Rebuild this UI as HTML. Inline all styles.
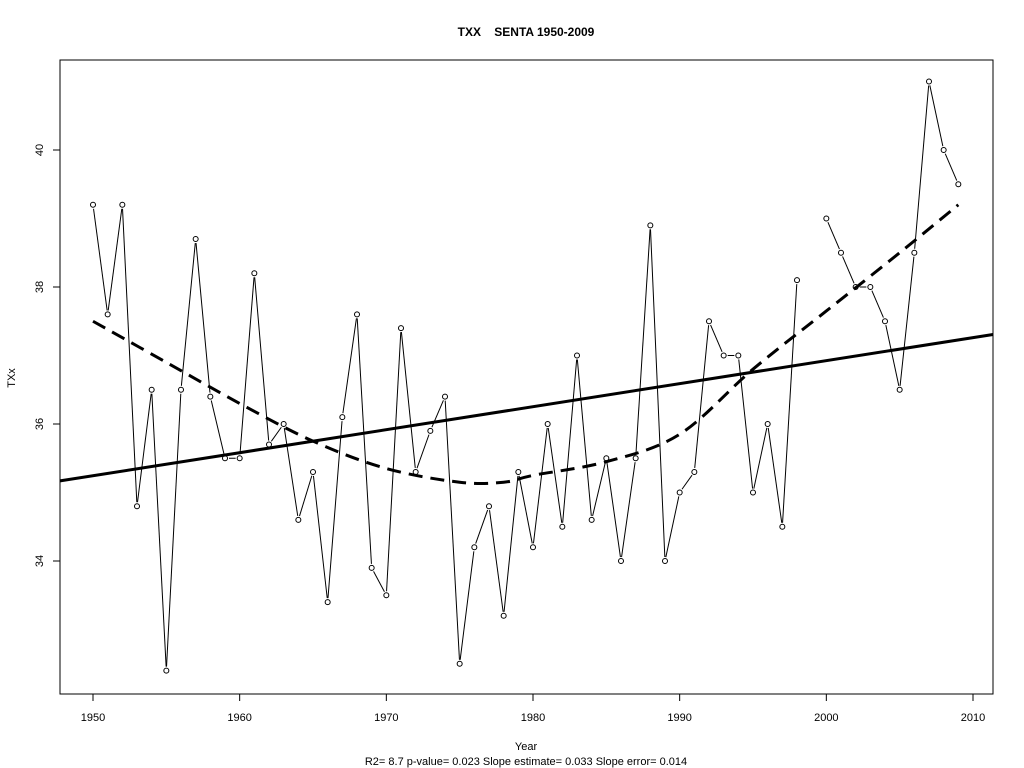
<!DOCTYPE html>
<html><head><meta charset="utf-8"><style>
html,body{margin:0;padding:0;background:#fff;}
svg{display:block;font-family:"Liberation Sans",Arial,sans-serif;}
</style></head><body>
<svg id="chart" width="1024" height="768" viewBox="0 0 1024 768">
<text x="526" y="36" text-anchor="middle" font-size="12" font-weight="bold" xml:space="preserve">TXX    SENTA 1950-2009</text>
<rect x="60" y="60" width="933" height="634" fill="none" stroke="#000" stroke-width="1"/>
<g id="xaxis"></g>
<g id="yaxis"></g>
<text x="526" y="750" text-anchor="middle" font-size="11">Year</text>
<text x="526" y="765" text-anchor="middle" font-size="11">R2= 8.7  p-value= 0.023  Slope estimate= 0.033  Slope error= 0.014</text>
<text x="15" y="378" text-anchor="middle" font-size="11" transform="rotate(-90 15 378)">TXx</text>
<g id="marks"></g>
</svg>
<script>
const years=[1950,1951,1952,1953,1954,1955,1956,1957,1958,1959,1960,1961,1962,1963,1964,1965,1966,1967,1968,1969,1970,1971,1972,1973,1974,1975,1976,1977,1978,1979,1980,1981,1982,1983,1984,1985,1986,1987,1988,1989,1990,1991,1992,1993,1994,1995,1996,1997,1998,1999,2000,2001,2002,2003,2004,2005,2006,2007,2008,2009];
const txx=[39.2,37.6,39.2,34.8,36.5,32.4,36.5,38.7,36.4,35.5,35.5,38.2,35.7,36.0,34.6,35.3,33.4,36.1,37.6,33.9,33.5,37.4,35.3,35.9,36.4,32.5,34.2,34.8,33.2,35.3,34.2,36.0,34.5,37.0,34.6,35.5,34.0,35.5,38.9,34.0,35.0,35.3,37.5,37.0,37.0,35.0,36.0,34.5,38.1,null,39.0,38.5,38.0,38.0,37.5,36.5,38.5,41.0,40.0,39.5];
const smoothYears=[1950,1955,1960,1965,1970,1975,1978,1980,1985,1990,1995,2000,2005,2009];
const smoothVals=[37.5,36.9,36.3,35.75,35.35,35.15,35.15,35.25,35.45,35.85,36.8,37.65,38.5,39.2];
const trendSlope=0.0336, trendIntercept1950=35.245;
const xTicks=[1950,1960,1970,1980,1990,2000,2010];
const yTicks=[34,36,38,40];

const NS="http://www.w3.org/2000/svg";
const X=v=>93+(v-1950)*(880/60);
const Y=v=>150+(40-v)*(411/6);
function mk(tag,attrs,parent){const e=document.createElementNS(NS,tag);for(const k in attrs)e.setAttribute(k,attrs[k]);parent.appendChild(e);return e;}
const xa=document.getElementById('xaxis'),ya=document.getElementById('yaxis'),marks=document.getElementById('marks');
mk('line',{x1:X(1950),x2:X(2010),y1:694,y2:694,stroke:'#000'},xa);
xTicks.forEach(t=>{
  const l=mk('line',{x1:X(t),x2:X(t),y1:694,y2:701,stroke:'#000'},xa);
  
  
  const tx=mk('text',{x:X(t),y:721,'text-anchor':'middle','font-size':11},xa);tx.textContent=t;
  
  
});
mk('line',{x1:60,x2:60,y1:Y(34),y2:Y(40),stroke:'#000'},ya);
yTicks.forEach(t=>{
  const l=mk('line',{x1:53,x2:60,y1:Y(t),y2:Y(t),stroke:'#000'},ya);
  
  
  const tx=mk('text',{x:43,y:Y(t),'text-anchor':'middle','font-size':11,transform:`rotate(-90 43 ${Y(t)})`},ya);tx.textContent=t;
  
  
});
// series line segments with gaps (type="b")
for(let i=0;i<years.length-1;i++){
  if(txx[i]==null||txx[i+1]==null)continue;
  const x1=X(years[i]),y1=Y(txx[i]),x2=X(years[i+1]),y2=Y(txx[i+1]);
  const d=Math.hypot(x2-x1,y2-y1),g=4;
  if(d<=2*g)continue;
  const ux=(x2-x1)/d,uy=(y2-y1)/d;
  const s=mk('line',{x1:x1+ux*g,y1:y1+uy*g,x2:x2-ux*g,y2:y2-uy*g,stroke:'#000','stroke-width':1},marks);
  
  
}
years.forEach((yr,i)=>{
  if(txx[i]==null)return;
  const c=mk('circle',{cx:X(yr),cy:Y(txx[i]),r:2.5,fill:'none',stroke:'#000','stroke-width':1},marks);
  
  
});
// trend line across plot
const ylo=1950+(60-93)/(880/60), yhi=1950+(993-93)/(880/60);
const tl=mk('line',{x1:60,y1:Y(trendIntercept1950+trendSlope*(ylo-1950)),x2:993,y2:Y(trendIntercept1950+trendSlope*(yhi-1950)),stroke:'#000','stroke-width':3},marks);


// smooth dashed
let pts=smoothYears.map((y,i)=>[X(y),Y(smoothVals[i])]);
let dstr='M'+pts[0][0]+','+pts[0][1];
for(let i=0;i<pts.length-1;i++){
  const p0=pts[Math.max(0,i-1)],p1=pts[i],p2=pts[i+1],p3=pts[Math.min(pts.length-1,i+2)];
  const c1=[p1[0]+(p2[0]-p0[0])/6,p1[1]+(p2[1]-p0[1])/6],c2=[p2[0]-(p3[0]-p1[0])/6,p2[1]-(p3[1]-p1[1])/6];
  dstr+=` C${c1[0]},${c1[1]} ${c2[0]},${c2[1]} ${p2[0]},${p2[1]}`;
}
const sm=mk('path',{d:dstr,fill:'none',stroke:'#000','stroke-width':3,'stroke-dasharray':'14,8'},marks);


</script>
</body></html>
